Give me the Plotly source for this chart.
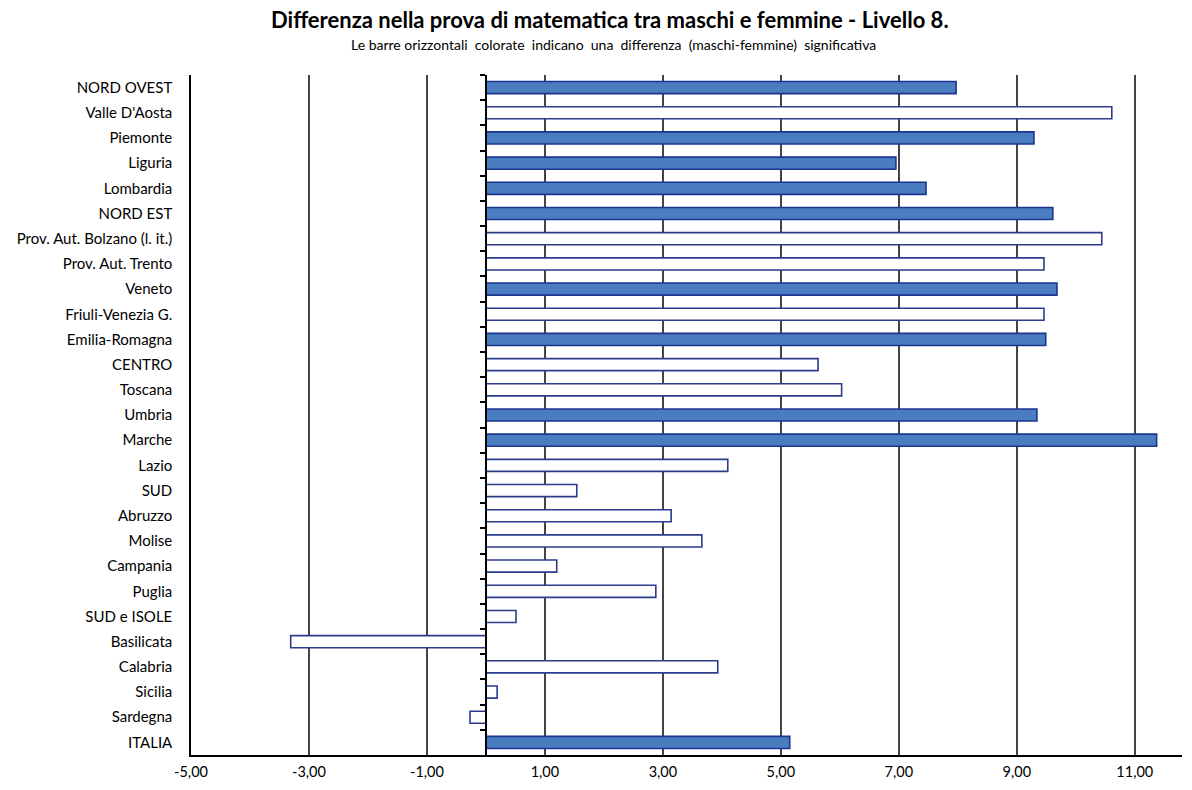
import plotly.graph_objects as go

# Differenza maschi-femmine, prova di matematica, livello 8
regioni = [
    "NORD OVEST", "Valle D'Aosta", "Piemonte", "Liguria", "Lombardia",
    "NORD EST", "Prov. Aut. Bolzano (l. it.)", "Prov. Aut. Trento", "Veneto",
    "Friuli-Venezia G.", "Emilia-Romagna", "CENTRO", "Toscana", "Umbria",
    "Marche", "Lazio", "SUD", "Abruzzo", "Molise", "Campania", "Puglia",
    "SUD e ISOLE", "Basilicata", "Calabria", "Sicilia", "Sardegna", "ITALIA",
]
differenza = [
    7.97, 10.61, 9.29, 6.95, 7.46,
    9.61, 10.44, 9.46, 9.68,
    9.46, 9.49, 5.63, 6.03, 9.34,
    11.37, 4.10, 1.54, 3.14, 3.66, 1.20, 2.88,
    0.51, -3.31, 3.93, 0.19, -0.27, 5.15,
]
significativa = [
    True, False, True, True, True,
    True, False, False, True,
    False, True, False, False, True,
    True, False, False, False, False, False, False,
    False, False, False, False, False, True,
]
x_ticks = [-5, -3, -1, 1, 3, 5, 7, 9, 11]
x_tick_labels = ["-5,00", "-3,00", "-1,00", "1,00", "3,00", "5,00", "7,00", "9,00", "11,00"]

X_MIN, X_MAX = -5, 11.8
FILL = "#4a7dbf"
EDGE = "#1b3590"
EDGE_HOLLOW = "#2c3d8e"
FONT = "Lato"

fill_colors = [FILL if s else "white" for s in significativa]
edge_colors = [EDGE if s else EDGE_HOLLOW for s in significativa]
n = len(regioni)

fig = go.Figure()
fig.add_trace(go.Bar(
    x=differenza, y=regioni, orientation="h",
    marker=dict(color=fill_colors, line=dict(color=edge_colors, width=1.6)),
    width=0.48, hoverinfo="x+y", showlegend=False,
))
# helper trace so the zero axis carries the same categories
fig.add_trace(go.Scatter(
    x=differenza, y=regioni, yaxis="y2", mode="markers",
    marker=dict(opacity=0), hoverinfo="skip", showlegend=False,
))

fig.update_layout(
    width=1192, height=790,
    margin=dict(l=191, r=10, t=75, b=33),
    paper_bgcolor="white", plot_bgcolor="white",
    font=dict(family=FONT, color="black", size=14),
    xaxis=dict(
        range=[X_MIN, X_MAX], tickvals=x_ticks, ticktext=x_tick_labels,
        showgrid=True, gridcolor="#444444", gridwidth=1.6,
        zeroline=False, showline=True, linecolor="black", linewidth=1.5,
        ticks="", ticklabelstandoff=3,
        tickfont=dict(family=FONT, size=14.5, color="black"),
        fixedrange=True,
    ),
    yaxis=dict(
        type="category", categoryorder="array", categoryarray=regioni,
        range=[n - 0.5, -0.5], autorange=False,
        showgrid=False, zeroline=False,
        showline=True, linecolor="black", linewidth=1.5, ticks="",
        ticklabelstandoff=14,
        tickfont=dict(family=FONT, size=15, color="black"),
    ),
    yaxis2=dict(
        type="category", categoryorder="array", categoryarray=regioni,
        matches="y", overlaying="y", anchor="free",
        position=(0 - X_MIN) / (X_MAX - X_MIN),
        showline=True, linecolor="black", linewidth=1.5,
        ticks="outside", ticklen=5, tickwidth=1.5, tickcolor="black",
        tickson="boundaries", showticklabels=False, showgrid=False,
    ),
    annotations=[
        dict(text="<b>Differenza nella prova di matematica tra maschi e femmine - Livello 8.</b>",
             x=610, y=19, xref="paper", yref="paper", showarrow=False,
             xanchor="center", yanchor="middle",
             font=dict(family=FONT, size=22, color="black")),
        dict(text="Le barre orizzontali  colorate  indicano  una  differenza  (maschi-femmine)  significativa",
             x=613, y=44, xref="paper", yref="paper", showarrow=False,
             xanchor="center", yanchor="middle",
             font=dict(family=FONT, size=14, color="black")),
    ],
)

# place the title block in pixel terms relative to the plot area
plot_w = 1192 - 191 - 10
plot_h = 790 - 75 - 33
for ann in fig.layout.annotations:
    px, py = ann.x, ann.y
    ann.x = (px - 191) / plot_w
    ann.y = 1 + (75 - py) / plot_h

fig.write_html("out.html")
